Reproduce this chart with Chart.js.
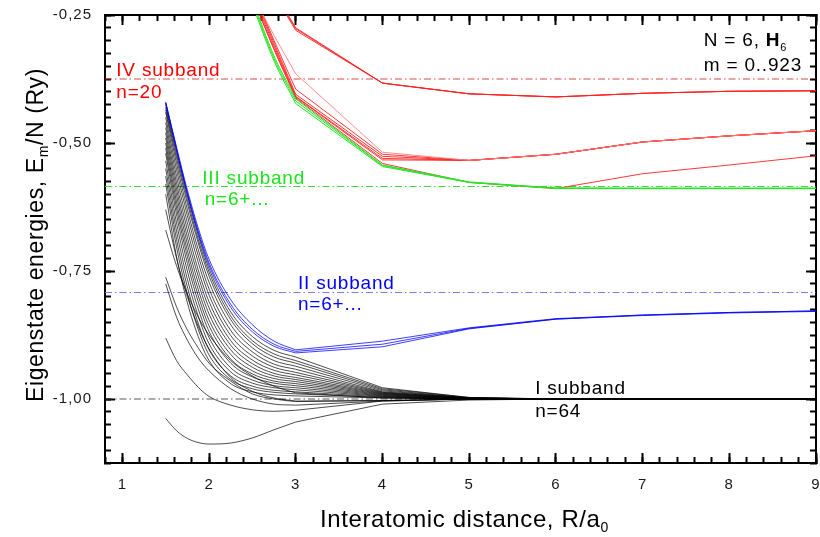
<!DOCTYPE html>
<html>
<head>
<meta charset="utf-8">
<script src="https://cdn.jsdelivr.net/npm/chart.js@4.4.1/dist/chart.umd.min.js"></script>
<style>
  html, body { margin: 0; padding: 0; background: #fff; }
  #wrap { width: 820px; height: 537px; }
</style>
</head>
<body>
<div id="wrap"><canvas id="c" width="820" height="537"></canvas></div>
<script>
// Interatomic distances R/a0 at which the eigenvalues are tabulated
const R_I   = [1.5, 1.625, 1.75, 1.875, 2, 2.25, 2.5, 2.75, 3, 4, 5, 6, 9];
const R_II  = [1.5, 1.625, 1.75, 1.875, 2, 2.25, 2.5, 2.75, 3, 4, 5, 6, 7, 8, 9];
const R_UP  = [2.5, 2.75, 3, 4, 5, 6, 7, 8, 9];

// Subband I (black): E_m/N, Ry
const subbandI = [
  [-0.425, -0.515, -0.602, -0.680, -0.745, -0.830, -0.878, -0.905, -0.918, -0.978, -0.997, -1.0, -1.0],
  [-0.430, -0.522, -0.610, -0.688, -0.752, -0.838, -0.886, -0.912, -0.925, -0.980, -0.997, -1.0, -1.0],
  [-0.435, -0.530, -0.618, -0.695, -0.760, -0.845, -0.892, -0.918, -0.930, -0.982, -0.998, -1.0, -1.0],
  [-0.440, -0.540, -0.630, -0.708, -0.772, -0.855, -0.900, -0.925, -0.936, -0.984, -0.998, -1.0, -1.0],
  [-0.450, -0.552, -0.642, -0.720, -0.785, -0.866, -0.908, -0.932, -0.942, -0.986, -0.998, -1.0, -1.0],
  [-0.460, -0.565, -0.656, -0.733, -0.797, -0.876, -0.916, -0.938, -0.948, -0.987, -0.998, -1.0, -1.0],
  [-0.470, -0.578, -0.670, -0.748, -0.810, -0.886, -0.924, -0.944, -0.953, -0.988, -0.999, -1.0, -1.0],
  [-0.480, -0.590, -0.684, -0.760, -0.822, -0.895, -0.931, -0.950, -0.958, -0.989, -0.999, -1.0, -1.0],
  [-0.490, -0.602, -0.697, -0.773, -0.834, -0.904, -0.938, -0.955, -0.962, -0.990, -0.999, -1.0, -1.0],
  [-0.500, -0.615, -0.710, -0.786, -0.846, -0.913, -0.945, -0.960, -0.966, -0.991, -0.999, -1.0, -1.0],
  [-0.510, -0.627, -0.722, -0.798, -0.857, -0.922, -0.951, -0.965, -0.970, -0.992, -0.999, -1.0, -1.0],
  [-0.520, -0.640, -0.735, -0.810, -0.868, -0.930, -0.957, -0.969, -0.974, -0.993, -1.0, -1.0, -1.0],
  [-0.535, -0.656, -0.750, -0.824, -0.880, -0.939, -0.963, -0.974, -0.978, -0.994, -1.0, -1.0, -1.0],
  [-0.550, -0.672, -0.766, -0.838, -0.892, -0.947, -0.969, -0.978, -0.982, -0.995, -1.0, -1.0, -1.0],
  [-0.565, -0.688, -0.781, -0.852, -0.904, -0.955, -0.975, -0.983, -0.986, -0.996, -1.0, -1.0, -1.0],
  [-0.580, -0.703, -0.795, -0.864, -0.914, -0.962, -0.980, -0.987, -0.990, -0.997, -1.0, -1.0, -1.0],
  [-0.600, -0.722, -0.812, -0.878, -0.925, -0.970, -0.986, -0.992, -0.994, -0.998, -1.0, -1.0, -1.0],
  [-0.630, -0.725, -0.800, -0.858, -0.902, -0.958, -0.985, -0.998, -1.004, -1.003, -1.0, -1.0, -1.0],
  [-0.670, -0.740, -0.795, -0.840, -0.875, -0.925, -0.955, -0.975, -0.988, -0.998, -1.0, -1.0, -1.0],
  [-0.762, -0.820, -0.865, -0.900, -0.930, -0.965, -0.990, -1.000, -1.005, -1.003, -1.0, -1.0, -1.0],
  [-0.775, -0.840, -0.885, -0.920, -0.945, -0.980, -1.000, -1.010, -1.012, -1.004, -1.0, -1.0, -1.0],
  [-0.881, -0.925, -0.953, -0.977, -0.995, -1.012, -1.021, -1.024, -1.022, -1.004, -1.0, -1.0, -1.0],
  [-1.038, -1.062, -1.077, -1.085, -1.088, -1.086, -1.076, -1.060, -1.045, -1.010, -1.002, -1.0, -1.0]
];

// Subband II (blue)
const subbandII = [
  [-0.420, -0.508, -0.592, -0.666, -0.727, -0.806, -0.855, -0.887, -0.904, -0.887, -0.861, -0.843, -0.836, -0.831, -0.828],
  [-0.421, -0.511, -0.597, -0.672, -0.734, -0.815, -0.864, -0.893, -0.907, -0.893, -0.862, -0.844, -0.836, -0.831, -0.828],
  [-0.422, -0.513, -0.600, -0.676, -0.739, -0.821, -0.869, -0.897, -0.910, -0.898, -0.863, -0.844, -0.837, -0.832, -0.829]
];

// Subband III (green)
const subbandIII = [
  [-0.220, -0.330, -0.414, -0.543, -0.576, -0.588, -0.588, -0.588, -0.588],
  [-0.225, -0.335, -0.418, -0.544, -0.577, -0.588, -0.589, -0.589, -0.589],
  [-0.230, -0.340, -0.423, -0.546, -0.577, -0.589, -0.589, -0.589, -0.589]
];

// Subband IV (red)
const subbandIV = [
  [-0.140, -0.205, -0.275, -0.383, -0.404, -0.410, -0.403, -0.399, -0.398],
  [-0.140, -0.207, -0.277, -0.383, -0.404, -0.410, -0.403, -0.399, -0.398],
  [-0.145, -0.210, -0.280, -0.383, -0.404, -0.410, -0.403, -0.399, -0.398],
  [-0.210, -0.290, -0.365, -0.518, -0.534, -0.522, -0.498, -0.486, -0.476],
  [-0.200, -0.300, -0.395, -0.522, -0.534, -0.522, -0.498, -0.486, -0.476],
  [-0.205, -0.305, -0.405, -0.526, -0.534, -0.522, -0.498, -0.486, -0.476],
  [-0.210, -0.310, -0.409, -0.530, -0.534, -0.522, -0.498, -0.486, -0.476],
  [-0.215, -0.315, -0.410, -0.533, -0.534, -0.522, -0.498, -0.486, -0.476],
  [-0.215, -0.318, -0.412, -0.540, -0.577, -0.589, -0.560, -0.543, -0.525]
];

// Subband reference levels (I .. IV) drawn across the full range
const levelR = [0.8, 9];
const subbandLevels = [-1.0, -0.792, -0.585, -0.375];

// Axis ticks
const xMajorTicks = [1, 2, 3, 4, 5, 6, 7, 8, 9];
const yMajorTicks = [-1.0, -0.75, -0.5, -0.25];

const FONT = "'Liberation Sans', Arial, sans-serif";
const RED = '#ff0000', GREEN = '#19e619', BLUE = '#0000ff';
const R_KNEE = 3;   // curves are smooth up to R = 3 a0, piecewise linear beyond

function pts(xs, ys) { return xs.map((x, i) => ({ x: x, y: ys[i] })); }

const datasets = [];
// each level curve: smooth branch (R <= 3) plus straight segments (R >= 3)
function addCurve(xs, ys, style) {
  const all = pts(xs, ys);
  const smooth = all.filter(p => p.x <= R_KNEE);
  const linear = all.filter(p => p.x >= R_KNEE);
  datasets.push(Object.assign({ data: smooth, cubicInterpolationMode: 'monotone' }, style));
  datasets.push(Object.assign({ data: linear }, style));
}

subbandLevels.forEach((lv, i) => {
  const col = ['rgba(60,60,60,0.85)', 'rgba(110,110,240,0.9)', 'rgba(30,220,30,0.9)', 'rgba(215,40,40,0.85)'][i];
  datasets.push({ data: pts(levelR, [lv, lv]), borderColor: col, borderWidth: 1,
                  borderDash: [7, 3, 1.5, 3], order: 6 });
});
subbandI.forEach(row => addCurve(R_I, row, { borderColor: 'rgba(0,0,0,0.78)', borderWidth: 0.9, order: 5 }));
subbandIV.forEach((row, i) => addCurve(R_UP, row, {
  borderColor: i === 3 ? '#ff8080' : '#ff2020', borderWidth: 0.9, order: 4 }));
subbandIII.forEach(row => addCurve(R_UP, row, { borderColor: '#22e622', borderWidth: 1, order: 3 }));
subbandII.forEach(row => addCurve(R_II, row, { borderColor: 'rgba(0,0,255,0.85)', borderWidth: 0.9, order: 2 }));

// Frame axes: major and minor tick marks pointing into the plot on all four sides
const frameBorder = { display: true, color: '#000', width: 2 };
function noPad(s) { s.paddingLeft = s.paddingRight = s.paddingTop = s.paddingBottom = 0; }
function frameAxis(pos, weight, kind, extra) {
  const horiz = pos === 'top' || pos === 'bottom';
  const major = kind === 'major';
  const ax = {
    type: 'linear', position: pos, weight: weight,
    min: horiz ? 0.8 : -1.125, max: horiz ? 9 : -0.25,
    border: frameBorder,
    grid: { drawOnChartArea: false, drawTicks: true, tickLength: major ? -10 : -6, tickWidth: 2, tickColor: '#000' },
    ticks: { display: false, autoSkip: false, maxRotation: 0 },
    afterBuildTicks: s => {
      if (major) {
        s.ticks = (horiz ? xMajorTicks : yMajorTicks).map(v => ({ value: v }));
      } else {
        const lo = horiz ? 0.8 : -1.125, step = horiz ? 0.2 : 0.025, n = horiz ? 41 : 35;
        const t = [];
        for (let i = 0; i <= n; i++) t.push({ value: +(lo + i * step).toFixed(4) });
        s.ticks = t;
      }
    },
    afterFit: s => { noPad(s); if (horiz) s.height = 0; else s.width = 0; }
  };
  return Object.assign(ax, extra || {});
}

const scales = {
  x: frameAxis('bottom', 1, 'major', {
    ticks: { display: true, autoSkip: false, maxRotation: 0, padding: 23, color: '#1a1a1a',
             font: { family: FONT, size: 15 }, callback: v => String(v) },
    afterFit: s => { noPad(s); s.height = 74; }
  }),
  xMinor: frameAxis('bottom', 0, 'minor'),
  xTop: frameAxis('top', 1, 'major'),
  xTopMinor: frameAxis('top', 0, 'minor'),
  y: frameAxis('left', 1, 'major', {
    ticks: { display: true, autoSkip: false, padding: 23, color: '#1a1a1a',
             font: { family: FONT, size: 15 }, callback: v => v.toFixed(2).replace('.', ',') },
    afterFit: s => { noPad(s); s.width = 105; }
  }),
  yMinor: frameAxis('left', 0, 'minor'),
  yRight: frameAxis('right', 1, 'major'),
  yRightMinor: frameAxis('right', 0, 'minor')
};

function drawRuns(ctx, runs, x0, y0, align) {
  let total = 0;
  runs.forEach(r => { ctx.font = r.font; r.w = ctx.measureText(r.text).width; total += r.w; });
  let x = align === 'center' ? x0 - total / 2 : x0;
  runs.forEach(r => { ctx.font = r.font; ctx.fillText(r.text, x, y0 + (r.dy || 0)); x += r.w; });
}

// Text spacing for tick labels and annotations
const spacingPlugin = {
  id: 'spacing',
  beforeDraw(chart) { chart.ctx.letterSpacing = '1px'; }
};

// Subband captions, system caption and axis titles
const captions = {
  id: 'captions',
  afterDraw(chart) {
    const { ctx, chartArea } = chart;
    const xs = chart.scales.x, ys = chart.scales.y;
    const px = v => xs.getPixelForValue(v), py = v => ys.getPixelForValue(v);
    const f19 = '19px ' + FONT;
    const labels = [
      { text: 'IV subband', at: [0.93, -0.369], color: RED },
      { text: 'n=20', at: [0.93, -0.413], color: RED },
      { text: 'III subband', at: [1.922, -0.581], color: GREEN },
      { text: 'n=6+...', at: [1.949, -0.621], color: GREEN },
      { text: 'II subband', at: [3.025, -0.786], color: BLUE },
      { text: 'n=6+...', at: [3.025, -0.826], color: BLUE },
      { text: 'I subband', at: [5.761, -0.991], color: '#000' },
      { text: 'n=64', at: [5.761, -1.035], color: '#000' },
      { text: 'm = 0..923', at: [7.705, -0.359], color: '#000' }
    ];
    ctx.save();
    ctx.letterSpacing = '0.8px';
    ctx.textBaseline = 'alphabetic';
    ctx.textAlign = 'left';
    labels.forEach(l => {
      ctx.fillStyle = l.color;
      ctx.font = f19;
      ctx.fillText(l.text, px(l.at[0]), py(l.at[1]));
    });
    ctx.fillStyle = '#000';
    drawRuns(ctx, [
      { text: 'N = 6, ', font: f19 },
      { text: 'H', font: 'bold 19px ' + FONT },
      { text: '6', font: '11px ' + FONT, dy: 5 }
    ], px(7.705), py(-0.31), 'left');

    // axis titles
    ctx.letterSpacing = '0.6px';
    ctx.fillStyle = '#000';
    const cx = (chartArea.left + chartArea.right) / 2 + 4;
    drawRuns(ctx, [
      { text: 'Interatomic distance, R/a', font: '24px ' + FONT },
      { text: '0', font: '14px ' + FONT, dy: 5 }
    ], cx, 527, 'center');

    ctx.translate(43, (chartArea.top + chartArea.bottom) / 2 - 4);
    ctx.rotate(-Math.PI / 2);
    drawRuns(ctx, [
      { text: 'Eigenstate energies, E', font: '23px ' + FONT },
      { text: 'm', font: '14px ' + FONT, dy: 5 },
      { text: '/N (Ry)', font: '23px ' + FONT }
    ], 0, 0, 'center');
    ctx.restore();
  }
};

new Chart(document.getElementById('c'), {
  type: 'line',
  data: { datasets: datasets },
  options: {
    responsive: false,
    animation: false,
    devicePixelRatio: 1,
    layout: { padding: { left: 0, right: 4, top: 15, bottom: 0 } },
    elements: { point: { radius: 0 }, line: { tension: 0, fill: false } },
    plugins: { legend: { display: false }, tooltip: { enabled: false }, title: { display: false } },
    scales: scales
  },
  plugins: [spacingPlugin, captions]
});
</script>
</body>
</html>
